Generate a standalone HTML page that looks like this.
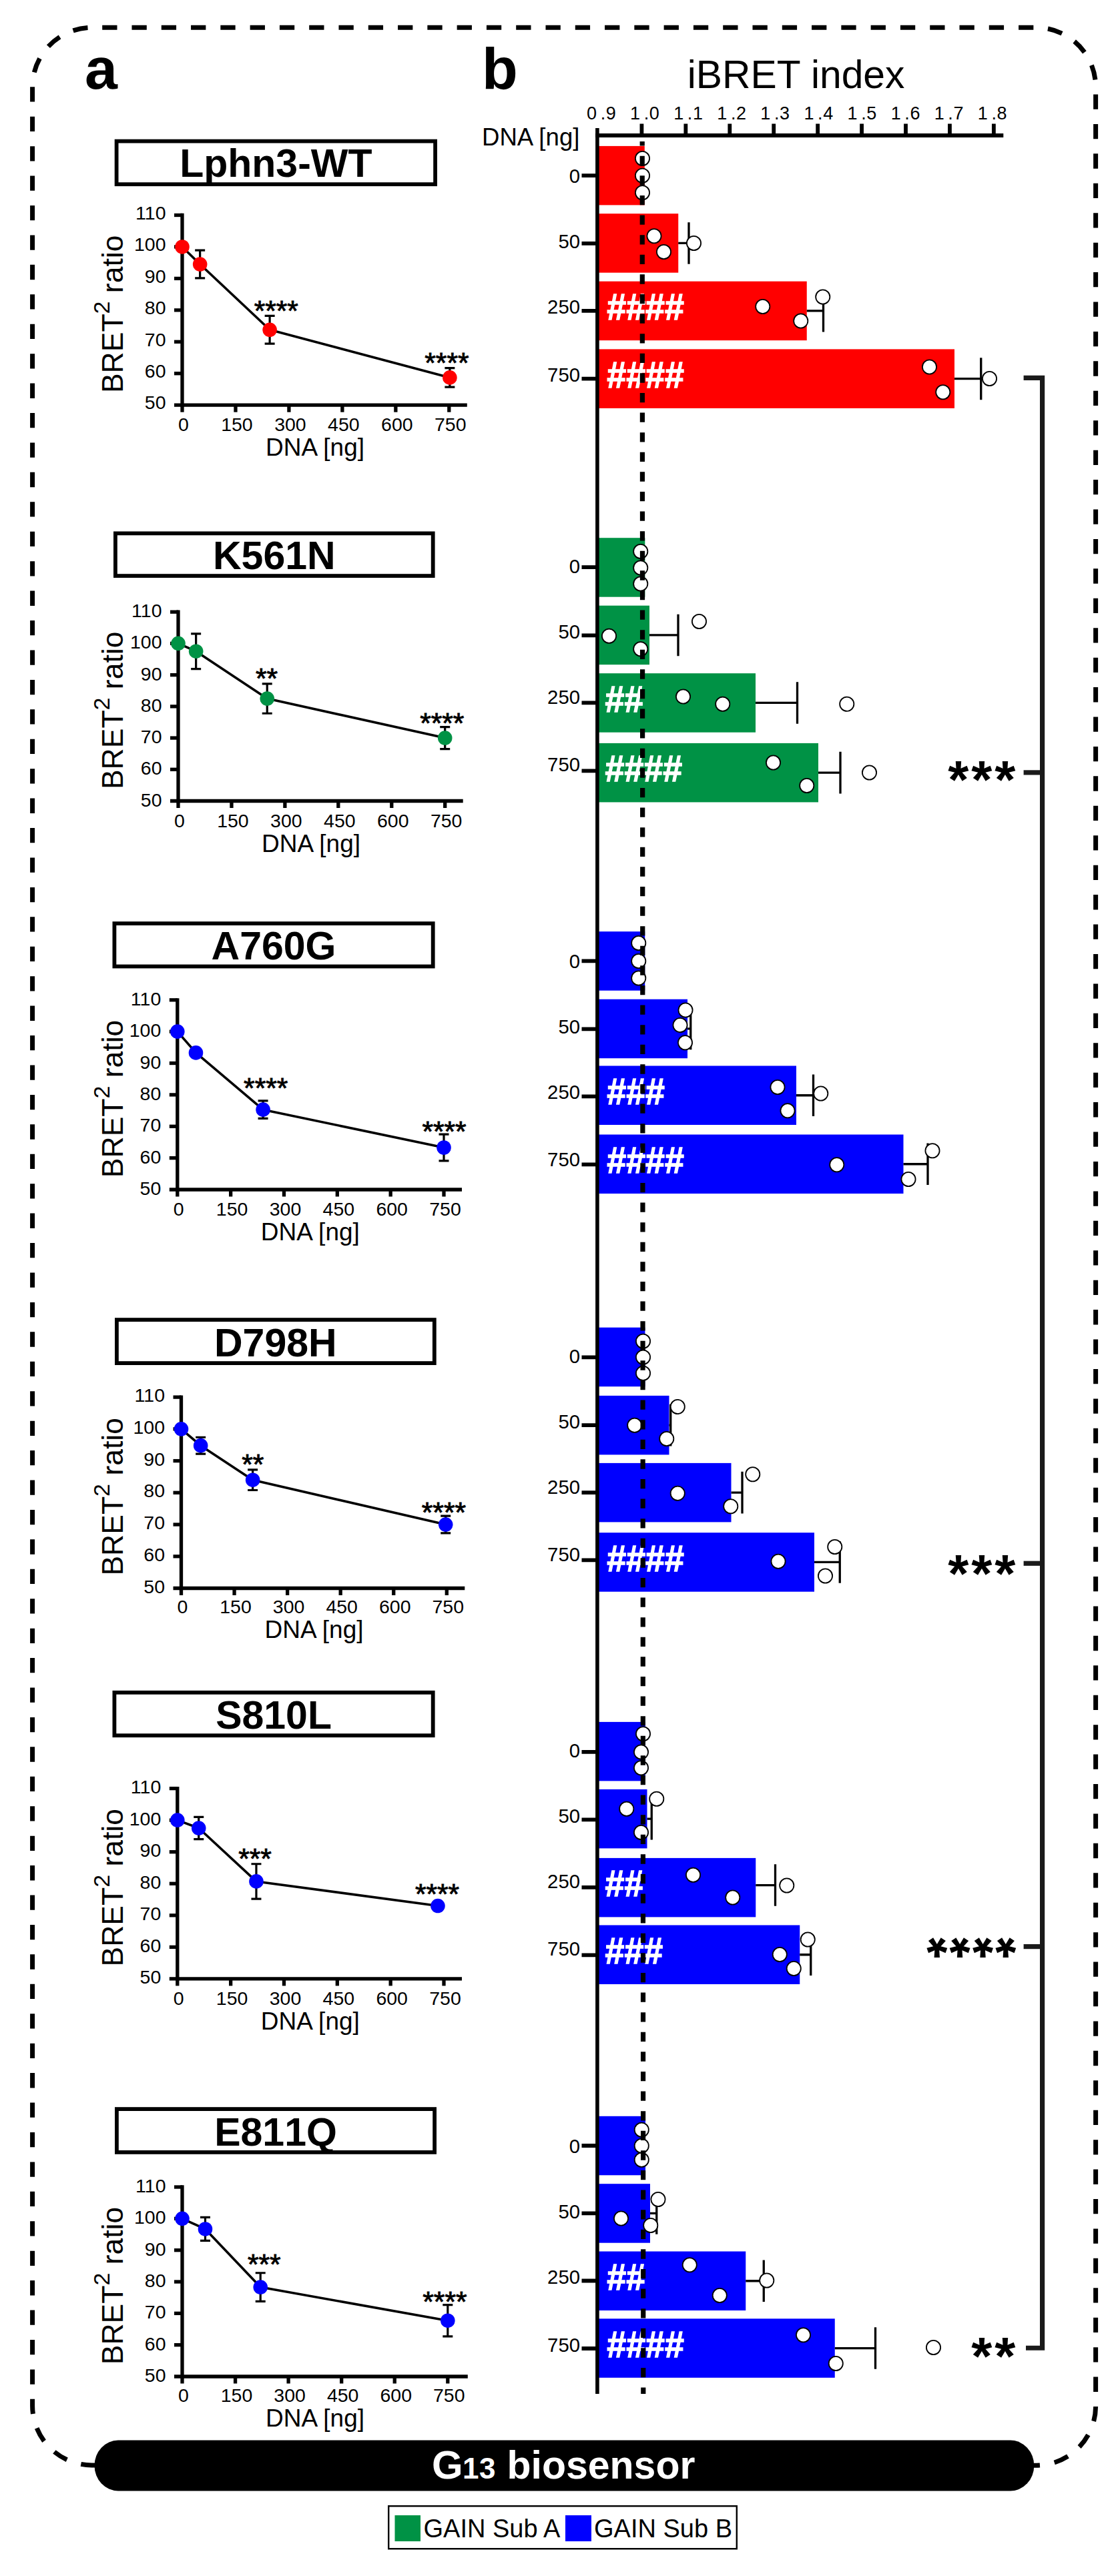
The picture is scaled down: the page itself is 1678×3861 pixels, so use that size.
<!DOCTYPE html>
<html lang="en"><head><meta charset="utf-8"><title>G13 biosensor</title>
<style>html,body{margin:0;padding:0;background:#fff}svg{display:block}text{font-family:"Liberation Sans", Arial, sans-serif}</style>
</head><body>
<svg width="1678" height="3861" viewBox="0 0 1678 3861">
<rect width="1678" height="3861" fill="#fff"/>
<g fill="none" stroke="#000" stroke-width="7">
<path d="M137.6 41.3A89.0 89.0 0 0 0 48.6 130.3V3605.9A89.0 89.0 0 0 0 137.6 3694.9H150" stroke-dasharray="22.3 22.130" stroke-dashoffset="38.169"/>
<path d="M1552.6 41.3A89.0 89.0 0 0 1 1641.6 130.3V3606.2000000000003A89.0 89.0 0 0 1 1552.6 3695.2000000000003H1540" stroke-dasharray="22.3 22.130" stroke-dashoffset="26.969"/>
<path d="M137.6 41.3H1552.6" stroke-dasharray="22.3 21.986" stroke-dashoffset="28.686"/>
</g>
<text x="127" y="133" font-size="88" font-weight="bold">a</text>
<g>
<rect x="174.60" y="211.60" width="477.50" height="64.60" fill="#fff" stroke="#000" stroke-width="5.8"/>
<text x="413.35" y="265.10" font-size="59" font-weight="bold" text-anchor="middle" style="font-kerning:none">Lphn3-WT</text>
<g stroke="#000" stroke-width="5.3" fill="none">
<path d="M273.00 319.85V609.85"/>
<path d="M261.00 607.20H699.80"/>
<path d="M261.00 322.50H273.00"/>
<path d="M261.00 369.95H273.00"/>
<path d="M261.00 417.40H273.00"/>
<path d="M261.00 464.85H273.00"/>
<path d="M261.00 512.30H273.00"/>
<path d="M261.00 559.75H273.00"/>
<path d="M273.00 607.20V617.70"/>
<path d="M352.96 607.20V617.70"/>
<path d="M432.92 607.20V617.70"/>
<path d="M512.88 607.20V617.70"/>
<path d="M592.84 607.20V617.70"/>
<path d="M672.80 607.20V617.70"/>
</g>
<g font-size="28.5" text-anchor="end">
<text x="248.50" y="328.70">110</text>
<text x="248.50" y="376.15">100</text>
<text x="248.50" y="423.60">90</text>
<text x="248.50" y="471.05">80</text>
<text x="248.50" y="518.50">70</text>
<text x="248.50" y="565.95">60</text>
<text x="248.50" y="613.40">50</text>
</g>
<g font-size="28.5" text-anchor="middle">
<text x="275.00" y="646.20">0</text>
<text x="354.96" y="646.20">150</text>
<text x="434.92" y="646.20">300</text>
<text x="514.88" y="646.20">450</text>
<text x="594.84" y="646.20">600</text>
<text x="674.80" y="646.20">750</text>
</g>
<text x="472.00" y="683.20" font-size="37" text-anchor="middle">DNA [ng]</text>
<text transform="translate(184.40 470.85) rotate(-90)" font-size="44.5" text-anchor="middle">BRET<tspan font-size="34" dy="-20">2</tspan><tspan dy="20"> ratio</tspan></text>
<path d="M273.00 369.95L299.65 396.05L404.13 494.27L673.87 565.92" stroke="#000" stroke-width="3.6" fill="none" stroke-linejoin="round"/>
<g stroke="#000" stroke-width="3.2" fill="none">
<path d="M299.65 375.17V416.93M292.15 375.17h15M292.15 416.93h15"/>
<path d="M404.13 473.39V515.15M396.63 473.39h15M396.63 515.15h15"/>
<path d="M673.87 551.68V580.15M666.37 551.68h15M666.37 580.15h15"/>
</g>
<circle cx="273.00" cy="369.95" r="10.8" fill="#ff0000"/>
<circle cx="299.65" cy="396.05" r="10.8" fill="#ff0000"/>
<circle cx="404.13" cy="494.27" r="10.8" fill="#ff0000"/>
<circle cx="673.87" cy="565.92" r="10.8" fill="#ff0000"/>
<text x="413.80" y="479.70" font-size="42.5" text-anchor="middle" stroke="#000" stroke-width="0.9">****</text>
<text x="669.40" y="557.50" font-size="42.5" text-anchor="middle" stroke="#000" stroke-width="0.9">****</text>
</g>
<g>
<rect x="172.90" y="799.40" width="475.80" height="63.70" fill="#fff" stroke="#000" stroke-width="5.8"/>
<text x="410.80" y="853.20" font-size="59" font-weight="bold" text-anchor="middle" style="font-kerning:none">K561N</text>
<g stroke="#000" stroke-width="5.3" fill="none">
<path d="M267.00 914.55V1203.15"/>
<path d="M255.00 1200.50H693.70"/>
<path d="M255.00 917.20H267.00"/>
<path d="M255.00 964.42H267.00"/>
<path d="M255.00 1011.63H267.00"/>
<path d="M255.00 1058.85H267.00"/>
<path d="M255.00 1106.07H267.00"/>
<path d="M255.00 1153.28H267.00"/>
<path d="M267.00 1200.50V1211.00"/>
<path d="M346.94 1200.50V1211.00"/>
<path d="M426.88 1200.50V1211.00"/>
<path d="M506.82 1200.50V1211.00"/>
<path d="M586.76 1200.50V1211.00"/>
<path d="M666.70 1200.50V1211.00"/>
</g>
<g font-size="28.5" text-anchor="end">
<text x="242.50" y="925.20">110</text>
<text x="242.50" y="972.42">100</text>
<text x="242.50" y="1019.63">90</text>
<text x="242.50" y="1066.85">80</text>
<text x="242.50" y="1114.07">70</text>
<text x="242.50" y="1161.28">60</text>
<text x="242.50" y="1208.50">50</text>
</g>
<g font-size="28.5" text-anchor="middle">
<text x="269.00" y="1239.50">0</text>
<text x="348.94" y="1239.50">150</text>
<text x="428.88" y="1239.50">300</text>
<text x="508.82" y="1239.50">450</text>
<text x="588.76" y="1239.50">600</text>
<text x="668.70" y="1239.50">750</text>
</g>
<text x="466.00" y="1276.50" font-size="37" text-anchor="middle">DNA [ng]</text>
<text transform="translate(184.40 1064.85) rotate(-90)" font-size="44.5" text-anchor="middle">BRET<tspan font-size="34" dy="-20">2</tspan><tspan dy="20"> ratio</tspan></text>
<path d="M267.00 964.42L293.65 976.22L400.23 1047.05L666.70 1106.07" stroke="#000" stroke-width="3.6" fill="none" stroke-linejoin="round"/>
<g stroke="#000" stroke-width="3.2" fill="none">
<path d="M293.65 949.78V1002.66M286.15 949.78h15M286.15 1002.66h15"/>
<path d="M400.23 1024.85V1069.24M392.73 1024.85h15M392.73 1069.24h15"/>
<path d="M666.70 1089.54V1122.59M659.20 1089.54h15M659.20 1122.59h15"/>
</g>
<circle cx="267.00" cy="964.42" r="10.8" fill="#009245"/>
<circle cx="293.65" cy="976.22" r="10.8" fill="#009245"/>
<circle cx="400.23" cy="1047.05" r="10.8" fill="#009245"/>
<circle cx="666.70" cy="1106.07" r="10.8" fill="#009245"/>
<text x="399.50" y="1031.30" font-size="42.5" text-anchor="middle" stroke="#000" stroke-width="0.9">**</text>
<text x="662.30" y="1097.60" font-size="42.5" text-anchor="middle" stroke="#000" stroke-width="0.9">****</text>
</g>
<g>
<rect x="171.40" y="1384.10" width="477.30" height="64.40" fill="#fff" stroke="#000" stroke-width="5.8"/>
<text x="410.05" y="1437.80" font-size="59" font-weight="bold" text-anchor="middle" style="font-kerning:none">A760G</text>
<g stroke="#000" stroke-width="5.3" fill="none">
<path d="M265.80 1496.15V1785.65"/>
<path d="M253.80 1783.00H692.00"/>
<path d="M253.80 1498.80H265.80"/>
<path d="M253.80 1546.17H265.80"/>
<path d="M253.80 1593.53H265.80"/>
<path d="M253.80 1640.90H265.80"/>
<path d="M253.80 1688.27H265.80"/>
<path d="M253.80 1735.63H265.80"/>
<path d="M265.80 1783.00V1793.50"/>
<path d="M345.64 1783.00V1793.50"/>
<path d="M425.48 1783.00V1793.50"/>
<path d="M505.32 1783.00V1793.50"/>
<path d="M585.16 1783.00V1793.50"/>
<path d="M665.00 1783.00V1793.50"/>
</g>
<g font-size="28.5" text-anchor="end">
<text x="241.30" y="1506.80">110</text>
<text x="241.30" y="1554.17">100</text>
<text x="241.30" y="1601.53">90</text>
<text x="241.30" y="1648.90">80</text>
<text x="241.30" y="1696.27">70</text>
<text x="241.30" y="1743.63">60</text>
<text x="241.30" y="1791.00">50</text>
</g>
<g font-size="28.5" text-anchor="middle">
<text x="267.80" y="1822.00">0</text>
<text x="347.64" y="1822.00">150</text>
<text x="427.48" y="1822.00">300</text>
<text x="507.32" y="1822.00">450</text>
<text x="587.16" y="1822.00">600</text>
<text x="667.00" y="1822.00">750</text>
</g>
<text x="464.80" y="1859.00" font-size="37" text-anchor="middle">DNA [ng]</text>
<text transform="translate(184.40 1646.90) rotate(-90)" font-size="44.5" text-anchor="middle">BRET<tspan font-size="34" dy="-20">2</tspan><tspan dy="20"> ratio</tspan></text>
<path d="M265.80 1546.17L293.48 1577.90L394.08 1663.16L665.00 1720.00" stroke="#000" stroke-width="3.6" fill="none" stroke-linejoin="round"/>
<g stroke="#000" stroke-width="3.2" fill="none">
<path d="M394.08 1649.90V1676.42M386.58 1649.90h15M386.58 1676.42h15"/>
<path d="M665.00 1700.11V1739.90M657.50 1700.11h15M657.50 1739.90h15"/>
</g>
<circle cx="265.80" cy="1546.17" r="10.8" fill="#0000ff"/>
<circle cx="293.48" cy="1577.90" r="10.8" fill="#0000ff"/>
<circle cx="394.08" cy="1663.16" r="10.8" fill="#0000ff"/>
<circle cx="665.00" cy="1720.00" r="10.8" fill="#0000ff"/>
<text x="398.20" y="1645.40" font-size="42.5" text-anchor="middle" stroke="#000" stroke-width="0.9">****</text>
<text x="665.60" y="1709.70" font-size="42.5" text-anchor="middle" stroke="#000" stroke-width="0.9">****</text>
</g>
<g>
<rect x="174.90" y="1978.10" width="475.90" height="65.00" fill="#fff" stroke="#000" stroke-width="5.8"/>
<text x="412.85" y="2033.10" font-size="59" font-weight="bold" text-anchor="middle" style="font-kerning:none">D798H</text>
<g stroke="#000" stroke-width="5.3" fill="none">
<path d="M271.50 2091.45V2383.15"/>
<path d="M259.50 2380.50H696.30"/>
<path d="M259.50 2094.10H271.50"/>
<path d="M259.50 2141.83H271.50"/>
<path d="M259.50 2189.57H271.50"/>
<path d="M259.50 2237.30H271.50"/>
<path d="M259.50 2285.03H271.50"/>
<path d="M259.50 2332.77H271.50"/>
<path d="M271.50 2380.50V2391.00"/>
<path d="M351.06 2380.50V2391.00"/>
<path d="M430.62 2380.50V2391.00"/>
<path d="M510.18 2380.50V2391.00"/>
<path d="M589.74 2380.50V2391.00"/>
<path d="M669.30 2380.50V2391.00"/>
</g>
<g font-size="28.5" text-anchor="end">
<text x="247.00" y="2101.10">110</text>
<text x="247.00" y="2148.83">100</text>
<text x="247.00" y="2196.57">90</text>
<text x="247.00" y="2244.30">80</text>
<text x="247.00" y="2292.03">70</text>
<text x="247.00" y="2339.77">60</text>
<text x="247.00" y="2387.50">50</text>
</g>
<g font-size="28.5" text-anchor="middle">
<text x="273.50" y="2417.80">0</text>
<text x="353.06" y="2417.80">150</text>
<text x="432.62" y="2417.80">300</text>
<text x="512.18" y="2417.80">450</text>
<text x="591.74" y="2417.80">600</text>
<text x="671.30" y="2417.80">750</text>
</g>
<text x="470.50" y="2454.80" font-size="37" text-anchor="middle">DNA [ng]</text>
<text transform="translate(184.40 2243.30) rotate(-90)" font-size="44.5" text-anchor="middle">BRET<tspan font-size="34" dy="-20">2</tspan><tspan dy="20"> ratio</tspan></text>
<path d="M271.50 2141.83L300.67 2166.65L378.64 2218.21L667.71 2285.03" stroke="#000" stroke-width="3.6" fill="none" stroke-linejoin="round"/>
<g stroke="#000" stroke-width="3.2" fill="none">
<path d="M300.67 2154.24V2179.07M293.17 2154.24h15M293.17 2179.07h15"/>
<path d="M378.64 2202.93V2233.48M371.14 2202.93h15M371.14 2233.48h15"/>
<path d="M667.71 2272.15V2297.92M660.21 2272.15h15M660.21 2297.92h15"/>
</g>
<circle cx="271.50" cy="2141.83" r="10.8" fill="#0000ff"/>
<circle cx="300.67" cy="2166.65" r="10.8" fill="#0000ff"/>
<circle cx="378.64" cy="2218.21" r="10.8" fill="#0000ff"/>
<circle cx="667.71" cy="2285.03" r="10.8" fill="#0000ff"/>
<text x="378.70" y="2209.00" font-size="42.5" text-anchor="middle" stroke="#000" stroke-width="0.9">**</text>
<text x="664.90" y="2280.50" font-size="42.5" text-anchor="middle" stroke="#000" stroke-width="0.9">****</text>
</g>
<g>
<rect x="171.40" y="2536.80" width="477.30" height="64.40" fill="#fff" stroke="#000" stroke-width="5.8"/>
<text x="410.05" y="2591.30" font-size="59" font-weight="bold" text-anchor="middle" style="font-kerning:none">S810L</text>
<g stroke="#000" stroke-width="5.3" fill="none">
<path d="M265.80 2677.95V2968.55"/>
<path d="M253.80 2965.90H692.00"/>
<path d="M253.80 2680.60H265.80"/>
<path d="M253.80 2728.15H265.80"/>
<path d="M253.80 2775.70H265.80"/>
<path d="M253.80 2823.25H265.80"/>
<path d="M253.80 2870.80H265.80"/>
<path d="M253.80 2918.35H265.80"/>
<path d="M265.80 2965.90V2976.40"/>
<path d="M345.64 2965.90V2976.40"/>
<path d="M425.48 2965.90V2976.40"/>
<path d="M505.32 2965.90V2976.40"/>
<path d="M585.16 2965.90V2976.40"/>
<path d="M665.00 2965.90V2976.40"/>
</g>
<g font-size="28.5" text-anchor="end">
<text x="241.30" y="2688.10">110</text>
<text x="241.30" y="2735.65">100</text>
<text x="241.30" y="2783.20">90</text>
<text x="241.30" y="2830.75">80</text>
<text x="241.30" y="2878.30">70</text>
<text x="241.30" y="2925.85">60</text>
<text x="241.30" y="2973.40">50</text>
</g>
<g font-size="28.5" text-anchor="middle">
<text x="267.80" y="3004.90">0</text>
<text x="347.64" y="3004.90">150</text>
<text x="427.48" y="3004.90">300</text>
<text x="507.32" y="3004.90">450</text>
<text x="587.16" y="3004.90">600</text>
<text x="667.00" y="3004.90">750</text>
</g>
<text x="464.80" y="3041.90" font-size="37" text-anchor="middle">DNA [ng]</text>
<text transform="translate(184.40 2829.25) rotate(-90)" font-size="44.5" text-anchor="middle">BRET<tspan font-size="34" dy="-20">2</tspan><tspan dy="20"> ratio</tspan></text>
<path d="M265.80 2728.15L297.74 2740.04L383.96 2819.92L655.95 2856.53" stroke="#000" stroke-width="3.6" fill="none" stroke-linejoin="round"/>
<g stroke="#000" stroke-width="3.2" fill="none">
<path d="M297.74 2723.39V2756.68M290.24 2723.39h15M290.24 2756.68h15"/>
<path d="M383.96 2793.77V2846.07M376.46 2793.77h15M376.46 2846.07h15"/>
</g>
<circle cx="265.80" cy="2728.15" r="10.8" fill="#0000ff"/>
<circle cx="297.74" cy="2740.04" r="10.8" fill="#0000ff"/>
<circle cx="383.96" cy="2819.92" r="10.8" fill="#0000ff"/>
<circle cx="655.95" cy="2856.53" r="10.8" fill="#0000ff"/>
<text x="382.10" y="2799.60" font-size="42.5" text-anchor="middle" stroke="#000" stroke-width="0.9">***</text>
<text x="655.00" y="2853.40" font-size="42.5" text-anchor="middle" stroke="#000" stroke-width="0.9">****</text>
</g>
<g>
<rect x="174.90" y="3161.10" width="476.20" height="64.80" fill="#fff" stroke="#000" stroke-width="5.8"/>
<text x="413.00" y="3215.50" font-size="59" font-weight="bold" text-anchor="middle" style="font-kerning:none">E811Q</text>
<g stroke="#000" stroke-width="5.3" fill="none">
<path d="M273.00 3275.35V3564.65"/>
<path d="M261.00 3562.00H700.80"/>
<path d="M261.00 3278.00H273.00"/>
<path d="M261.00 3325.33H273.00"/>
<path d="M261.00 3372.67H273.00"/>
<path d="M261.00 3420.00H273.00"/>
<path d="M261.00 3467.33H273.00"/>
<path d="M261.00 3514.67H273.00"/>
<path d="M273.00 3562.00V3572.50"/>
<path d="M352.56 3562.00V3572.50"/>
<path d="M432.12 3562.00V3572.50"/>
<path d="M511.68 3562.00V3572.50"/>
<path d="M591.24 3562.00V3572.50"/>
<path d="M670.80 3562.00V3572.50"/>
</g>
<g font-size="28.5" text-anchor="end">
<text x="248.50" y="3286.00">110</text>
<text x="248.50" y="3333.33">100</text>
<text x="248.50" y="3380.67">90</text>
<text x="248.50" y="3428.00">80</text>
<text x="248.50" y="3475.33">70</text>
<text x="248.50" y="3522.67">60</text>
<text x="248.50" y="3570.00">50</text>
</g>
<g font-size="28.5" text-anchor="middle">
<text x="275.00" y="3600.00">0</text>
<text x="354.56" y="3600.00">150</text>
<text x="434.12" y="3600.00">300</text>
<text x="513.68" y="3600.00">450</text>
<text x="593.24" y="3600.00">600</text>
<text x="672.80" y="3600.00">750</text>
</g>
<text x="472.00" y="3637.00" font-size="37" text-anchor="middle">DNA [ng]</text>
<text transform="translate(184.40 3426.00) rotate(-90)" font-size="44.5" text-anchor="middle">BRET<tspan font-size="34" dy="-20">2</tspan><tspan dy="20"> ratio</tspan></text>
<path d="M273.00 3325.33L307.48 3340.95L390.22 3428.05L670.80 3478.22" stroke="#000" stroke-width="3.6" fill="none" stroke-linejoin="round"/>
<g stroke="#000" stroke-width="3.2" fill="none">
<path d="M307.48 3323.44V3358.47M299.98 3323.44h15M299.98 3358.47h15"/>
<path d="M390.22 3406.75V3449.35M382.72 3406.75h15M382.72 3449.35h15"/>
<path d="M670.80 3454.55V3501.89M663.30 3454.55h15M663.30 3501.89h15"/>
</g>
<circle cx="273.00" cy="3325.33" r="10.8" fill="#0000ff"/>
<circle cx="307.48" cy="3340.95" r="10.8" fill="#0000ff"/>
<circle cx="390.22" cy="3428.05" r="10.8" fill="#0000ff"/>
<circle cx="670.80" cy="3478.22" r="10.8" fill="#0000ff"/>
<text x="395.80" y="3407.90" font-size="42.5" text-anchor="middle" stroke="#000" stroke-width="0.9">***</text>
<text x="666.40" y="3463.60" font-size="42.5" text-anchor="middle" stroke="#000" stroke-width="0.9">****</text>
</g>
<g>
<text x="722" y="133" font-size="88" font-weight="bold">b</text>
<text x="1192.6" y="131.9" font-size="58.8" text-anchor="middle">iBRET index</text>
<text x="722" y="217.5" font-size="36.6">DNA [ng]</text>
<g font-size="27">
<text x="879.00" y="178.75" dx="0 5.6 0.6">0.9</text>
<text x="944.09" y="178.75" dx="0 5.6 0.6">1.0</text>
<text x="1009.18" y="178.75" dx="0 5.6 0.6">1.1</text>
<text x="1074.27" y="178.75" dx="0 5.6 0.6">1.2</text>
<text x="1139.36" y="178.75" dx="0 5.6 0.6">1.3</text>
<text x="1204.45" y="178.75" dx="0 5.6 0.6">1.4</text>
<text x="1269.54" y="178.75" dx="0 5.6 0.6">1.5</text>
<text x="1334.63" y="178.75" dx="0 5.6 0.6">1.6</text>
<text x="1399.72" y="178.75" dx="0 5.6 0.6">1.7</text>
<text x="1464.81" y="178.75" dx="0 5.6 0.6">1.8</text>
</g>
<rect x="894.90" y="218.90" width="70.85" height="88.5" fill="#ff0000"/>
<rect x="894.90" y="320.20" width="121.35" height="88.5" fill="#ff0000"/>
<rect x="894.90" y="421.70" width="313.85" height="88.5" fill="#ff0000"/>
<rect x="894.90" y="523.40" width="535.10" height="88.5" fill="#ff0000"/>
<rect x="894.90" y="806.20" width="71.40" height="88.5" fill="#009245"/>
<rect x="894.90" y="907.70" width="78.10" height="88.5" fill="#009245"/>
<rect x="894.90" y="1009.20" width="237.10" height="88.5" fill="#009245"/>
<rect x="894.90" y="1113.90" width="331.10" height="88.5" fill="#009245"/>
<rect x="894.90" y="1396.20" width="71.30" height="88.5" fill="#0000ff"/>
<rect x="894.90" y="1497.70" width="135.10" height="88.5" fill="#0000ff"/>
<rect x="894.90" y="1597.50" width="298.10" height="88.5" fill="#0000ff"/>
<rect x="894.90" y="1700.50" width="458.60" height="88.5" fill="#0000ff"/>
<rect x="894.90" y="1989.70" width="71.50" height="88.5" fill="#0000ff"/>
<rect x="894.90" y="2091.90" width="107.60" height="88.5" fill="#0000ff"/>
<rect x="894.90" y="2192.90" width="200.60" height="88.5" fill="#0000ff"/>
<rect x="894.90" y="2297.20" width="325.10" height="88.5" fill="#0000ff"/>
<rect x="894.90" y="2580.90" width="71.90" height="88.5" fill="#0000ff"/>
<rect x="894.90" y="2681.90" width="74.60" height="88.5" fill="#0000ff"/>
<rect x="894.90" y="2784.90" width="237.35" height="88.5" fill="#0000ff"/>
<rect x="894.90" y="2885.50" width="303.35" height="88.5" fill="#0000ff"/>
<rect x="894.90" y="3171.80" width="72.10" height="88.5" fill="#0000ff"/>
<rect x="894.90" y="3273.20" width="79.10" height="88.5" fill="#0000ff"/>
<rect x="894.90" y="3374.50" width="222.35" height="88.5" fill="#0000ff"/>
<rect x="894.90" y="3475.30" width="355.85" height="88.5" fill="#0000ff"/>
<g stroke="#000" fill="none">
<path d="M894.90 192V3588" stroke-width="5.6"/>
<path d="M892.10 203.1H1503.3" stroke-width="6"/>
<path d="M961.43 185.5V203M1027.36 185.5V203M1093.29 185.5V203M1159.22 185.5V203M1225.15 185.5V203M1291.08 185.5V203M1357.01 185.5V203M1422.94 185.5V203M1488.87 185.5V203" stroke-width="5.8"/>
<path d="M871.5 263.10H894.90M871.5 364.90H894.90M871.5 465.90H894.90M871.5 567.60H894.90M871.5 850.10H894.90M871.5 952.30H894.90M871.5 1053.30H894.90M871.5 1155.30H894.90M871.5 1440.40H894.90M871.5 1542.30H894.90M871.5 1643.30H894.90M871.5 1745.30H894.90M871.5 2034.30H894.90M871.5 2136.10H894.90M871.5 2237.10H894.90M871.5 2338.40H894.90M871.5 2625.90H894.90M871.5 2727.40H894.90M871.5 2828.80H894.90M871.5 2930.30H894.90M871.5 3216.00H894.90M871.5 3317.40H894.90M871.5 3418.50H894.90M871.5 3520.00H894.90" stroke-width="5.8"/>
</g>
<g font-size="29.3" text-anchor="end">
<text x="869" y="274.00">0</text>
<text x="869" y="372.20">50</text>
<text x="869" y="470.20">250</text>
<text x="869" y="572.00">750</text>
<text x="869" y="858.50">0</text>
<text x="869" y="956.60">50</text>
<text x="869" y="1055.10">250</text>
<text x="869" y="1156.30">750</text>
<text x="869" y="1450.70">0</text>
<text x="869" y="1548.60">50</text>
<text x="869" y="1646.80">250</text>
<text x="869" y="1747.50">750</text>
<text x="869" y="2042.70">0</text>
<text x="869" y="2140.80">50</text>
<text x="869" y="2238.80">250</text>
<text x="869" y="2339.50">750</text>
<text x="869" y="2634.30">0</text>
<text x="869" y="2732.20">50</text>
<text x="869" y="2830.20">250</text>
<text x="869" y="2931.20">750</text>
<text x="869" y="3226.60">0</text>
<text x="869" y="3324.90">50</text>
<text x="869" y="3423.10">250</text>
<text x="869" y="3525.30">750</text>
</g>
<g stroke="#000" stroke-width="3.3" fill="none">
<path d="M1016.25 364.45H1032.00M1032.00 333.15V395.75"/>
<path d="M1208.75 465.95H1233.50M1233.50 434.45V497.45"/>
<path d="M1430.00 567.65H1469.75M1469.75 536.15V599.15"/>
<path d="M973.00 951.95H1016.00M1016.00 920.65V983.25"/>
<path d="M1132.00 1053.45H1194.50M1194.50 1022.15V1084.75"/>
<path d="M1226.00 1158.15H1259.00M1259.00 1126.85V1189.45"/>
<path d="M1030.00 1541.95H1034.75M1034.75 1510.65V1573.25"/>
<path d="M1193.00 1641.75H1218.50M1218.50 1610.45V1673.05"/>
<path d="M1353.50 1744.75H1390.00M1390.00 1713.45V1776.05"/>
<path d="M1002.50 2136.15H1004.75M1004.75 2104.85V2167.45"/>
<path d="M1095.50 2237.15H1112.00M1112.00 2205.85V2268.45"/>
<path d="M1220.00 2341.45H1258.25M1258.25 2310.15V2372.75"/>
<path d="M969.50 2726.15H976.25M976.25 2694.85V2757.45"/>
<path d="M1132.25 2825.55H1161.50M1161.50 2794.25V2856.85"/>
<path d="M1198.25 2929.75H1214.75M1214.75 2898.45V2961.05"/>
<path d="M974.00 3317.45H983.75M983.75 3286.15V3348.75"/>
<path d="M1117.25 3418.75H1144.25M1144.25 3387.45V3450.05"/>
<path d="M1250.75 3519.55H1311.50M1311.50 3488.25V3550.85"/>
</g>
<g font-size="52" font-weight="bold" fill="#fff" stroke="#fff" stroke-width="1.2">
<text transform="translate(909.3 479.15) scale(1 1.05)">####</text>
<text transform="translate(909.3 580.85) scale(1 1.05)">####</text>
<text transform="translate(906.5 1066.65) scale(1 1.05)">##</text>
<text transform="translate(906.5 1171.35) scale(1 1.05)">####</text>
<text transform="translate(909.3 1654.95) scale(1 1.05)">###</text>
<text transform="translate(909.3 1757.95) scale(1 1.05)">####</text>
<text transform="translate(909.3 2354.65) scale(1 1.05)">####</text>
<text transform="translate(906.5 2842.35) scale(1 1.05)">##</text>
<text transform="translate(906.5 2942.95) scale(1 1.05)">###</text>
<text transform="translate(909.3 3431.95) scale(1 1.05)">##</text>
<text transform="translate(909.3 3532.75) scale(1 1.05)">####</text>
</g>
<g fill="#fff" stroke="#000" stroke-width="1.8">
<circle cx="962.50" cy="237.50" r="10.6"/>
<circle cx="962.50" cy="263.25" r="10.6"/>
<circle cx="962.50" cy="288.75" r="10.6"/>
<circle cx="980.00" cy="353.75" r="10.6"/>
<circle cx="994.50" cy="377.50" r="10.6"/>
<circle cx="1039.50" cy="364.50" r="10.6"/>
<circle cx="1142.75" cy="459.50" r="10.6"/>
<circle cx="1199.75" cy="481.00" r="10.6"/>
<circle cx="1232.75" cy="445.00" r="10.6"/>
<circle cx="1392.50" cy="550.00" r="10.6"/>
<circle cx="1412.75" cy="587.75" r="10.6"/>
<circle cx="1482.50" cy="567.50" r="10.6"/>
<circle cx="959.75" cy="826.50" r="10.6"/>
<circle cx="959.75" cy="851.00" r="10.6"/>
<circle cx="959.75" cy="875.00" r="10.6"/>
<circle cx="912.50" cy="953.25" r="10.6"/>
<circle cx="959.75" cy="972.75" r="10.6"/>
<circle cx="1047.50" cy="931.50" r="10.6"/>
<circle cx="1023.50" cy="1044.00" r="10.6"/>
<circle cx="1082.75" cy="1055.25" r="10.6"/>
<circle cx="1268.75" cy="1055.25" r="10.6"/>
<circle cx="1158.50" cy="1143.00" r="10.6"/>
<circle cx="1208.75" cy="1177.50" r="10.6"/>
<circle cx="1302.50" cy="1158.00" r="10.6"/>
<circle cx="956.75" cy="1413.50" r="10.6"/>
<circle cx="956.75" cy="1440.50" r="10.6"/>
<circle cx="956.75" cy="1466.00" r="10.6"/>
<circle cx="1027.00" cy="1514.00" r="10.6"/>
<circle cx="1019.00" cy="1536.50" r="10.6"/>
<circle cx="1026.50" cy="1562.75" r="10.6"/>
<circle cx="1165.00" cy="1629.50" r="10.6"/>
<circle cx="1180.00" cy="1664.75" r="10.6"/>
<circle cx="1229.75" cy="1639.00" r="10.6"/>
<circle cx="1253.75" cy="1745.75" r="10.6"/>
<circle cx="1361.00" cy="1767.50" r="10.6"/>
<circle cx="1397.00" cy="1724.75" r="10.6"/>
<circle cx="963.50" cy="2010.25" r="10.6"/>
<circle cx="963.50" cy="2034.25" r="10.6"/>
<circle cx="963.50" cy="2058.25" r="10.6"/>
<circle cx="1015.25" cy="2108.50" r="10.6"/>
<circle cx="950.75" cy="2136.25" r="10.6"/>
<circle cx="998.75" cy="2156.50" r="10.6"/>
<circle cx="1127.75" cy="2209.75" r="10.6"/>
<circle cx="1015.25" cy="2238.25" r="10.6"/>
<circle cx="1094.75" cy="2257.75" r="10.6"/>
<circle cx="1250.75" cy="2318.50" r="10.6"/>
<circle cx="1166.00" cy="2340.25" r="10.6"/>
<circle cx="1236.50" cy="2362.00" r="10.6"/>
<circle cx="963.50" cy="2598.75" r="10.6"/>
<circle cx="960.50" cy="2626.00" r="10.6"/>
<circle cx="960.50" cy="2649.75" r="10.6"/>
<circle cx="983.75" cy="2696.25" r="10.6"/>
<circle cx="938.75" cy="2711.25" r="10.6"/>
<circle cx="960.50" cy="2746.50" r="10.6"/>
<circle cx="1038.50" cy="2810.25" r="10.6"/>
<circle cx="1097.75" cy="2844.00" r="10.6"/>
<circle cx="1178.75" cy="2826.00" r="10.6"/>
<circle cx="1210.25" cy="2907.00" r="10.6"/>
<circle cx="1168.25" cy="2929.50" r="10.6"/>
<circle cx="1189.25" cy="2950.50" r="10.6"/>
<circle cx="961.25" cy="3192.25" r="10.6"/>
<circle cx="961.25" cy="3216.25" r="10.6"/>
<circle cx="961.25" cy="3237.25" r="10.6"/>
<circle cx="986.00" cy="3296.50" r="10.6"/>
<circle cx="930.50" cy="3325.00" r="10.6"/>
<circle cx="974.75" cy="3335.50" r="10.6"/>
<circle cx="1033.25" cy="3394.75" r="10.6"/>
<circle cx="1078.25" cy="3440.50" r="10.6"/>
<circle cx="1148.75" cy="3418.00" r="10.6"/>
<circle cx="1203.50" cy="3499.75" r="10.6"/>
<circle cx="1252.25" cy="3542.50" r="10.6"/>
<circle cx="1398.50" cy="3518.50" r="10.6"/>
</g>
<path d="M962.2 212L963.8 3588" stroke="#000" stroke-width="7.2" stroke-dasharray="14.3 15.3" stroke-dashoffset="7.85" fill="none"/>
<g stroke="#1a1a1a" stroke-width="7.2" fill="none">
<path d="M1533.6 566.3H1561.6V3519.25H1537"/>
<path d="M1533.6 1157.90H1561.6"/>
<path d="M1533.6 2343.25H1561.6"/>
<path d="M1533.6 2917.60H1561.6"/>
</g>
<g font-size="80.0" font-weight="bold">
<text x="1420.30 1455.30 1490.30" y="1195.90">***</text>
<text x="1420.30 1455.30 1490.30" y="2386.10">***</text>
<text transform="translate(1455.40 2919.20) rotate(180)" x="-67.20 -32.80 1.60 36.00" y="40.40">****</text>
<text x="1455.30 1490.30" y="3559.10">**</text>
</g>
</g>
<rect x="141.5" y="3657.5" width="1407.8" height="76" rx="35.5" ry="38" fill="#000"/>
<text y="3715" font-weight="bold" fill="#fff" style="white-space:pre"><tspan x="647" font-size="60">G</tspan><tspan x="693" font-size="44" letter-spacing="0.6">13</tspan><tspan x="743.1" font-size="59"> biosensor</tspan></text>
<rect x="582.2" y="3756.2" width="521.6" height="64" fill="#fff" stroke="#000" stroke-width="2.4"/>
<rect x="591.5" y="3770" width="38.5" height="39" fill="#009245"/>
<text x="634.5" y="3802.5" font-size="38">GAIN Sub A</text>
<rect x="847" y="3770" width="39" height="39" fill="#0000ff"/>
<text x="890" y="3802.5" font-size="38">GAIN Sub B</text>
</svg></body></html>
